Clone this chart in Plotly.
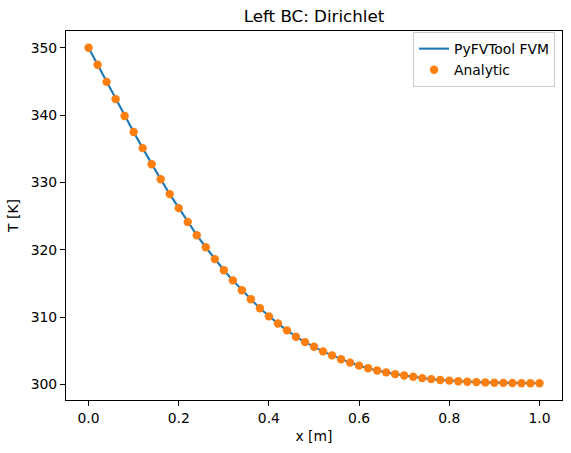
import plotly.graph_objects as go

x_vals = [round(0.02 * i, 2) for i in range(51)]
T_analytic = [
    350.00, 347.47, 344.94, 342.38, 339.88, 337.50, 335.10, 332.70, 330.48, 328.27,
    326.19, 324.12, 322.17, 320.38, 318.62, 316.97, 315.46, 314.00, 312.65, 311.33,
    310.12, 309.05, 308.04, 307.10, 306.30, 305.60, 304.92, 304.33, 303.75, 303.25,
    302.80, 302.42, 302.07, 301.80, 301.54, 301.33, 301.15, 300.95, 300.80, 300.68,
    300.58, 300.49, 300.42, 300.36, 300.31, 300.27, 300.24, 300.22, 300.20, 300.19,
    300.19,
]
T_fvm = list(T_analytic)

x_ticks = [0.0, 0.2, 0.4, 0.6, 0.8, 1.0]
y_ticks = [300, 310, 320, 330, 340, 350]

FONT = "DejaVu Sans"

fig = go.Figure()
fig.add_trace(go.Scatter(
    x=x_vals, y=T_fvm, mode="lines", name="PyFVTool FVM",
    line=dict(color="#1f77b4", width=2.1),
))
fig.add_trace(go.Scatter(
    x=x_vals, y=T_analytic, mode="markers", name="Analytic",
    marker=dict(color="#ff7f0e", size=8.4, line=dict(width=0)),
))

ymin, ymax = min(T_analytic), max(T_analytic)
yr = ymax - ymin
fig.update_layout(
    width=571, height=453,
    margin=dict(l=66, r=9, t=31, b=53),
    paper_bgcolor="white", plot_bgcolor="white",
    font=dict(family=FONT, size=13.9, color="black"),
    title=dict(text="Left BC: Dirichlet", x=(66 + 562) / 2 / 571, xanchor="center",
               y=1 - 16 / 453, yanchor="middle", yref="container",
               font=dict(size=16.7, color="black", family=FONT)),
    showlegend=True,
    legend=dict(x=0.986, xanchor="right", y=0.997, yanchor="top",
                bordercolor="#cccccc", borderwidth=1, bgcolor="rgba(255,255,255,0.8)",
                font=dict(size=13.9, family=FONT, color="black"),
                tracegroupgap=0, itemwidth=30),
    xaxis=dict(range=[-0.05, 1.05], tickvals=x_ticks,
               ticktext=[f"{v:.1f}" for v in x_ticks],
               showgrid=False, zeroline=False, showline=True, linecolor="black",
               linewidth=1.1, mirror=True, ticks="outside", ticklen=5, tickwidth=1.1,
               tickcolor="black",
               title=dict(text="x [m]", standoff=6, font=dict(size=13.9, family=FONT))),
    yaxis=dict(range=[ymin - 0.05 * yr, ymax + 0.05 * yr], tickvals=y_ticks,
               ticktext=[str(v) for v in y_ticks],
               showgrid=False, zeroline=False, showline=True, linecolor="black",
               linewidth=1.1, mirror=True, ticks="outside", ticklen=5, tickwidth=1.1,
               tickcolor="black",
               title=dict(text="T [K]", standoff=8, font=dict(size=13.9, family=FONT))),
)

fig.write_html("out.html")
